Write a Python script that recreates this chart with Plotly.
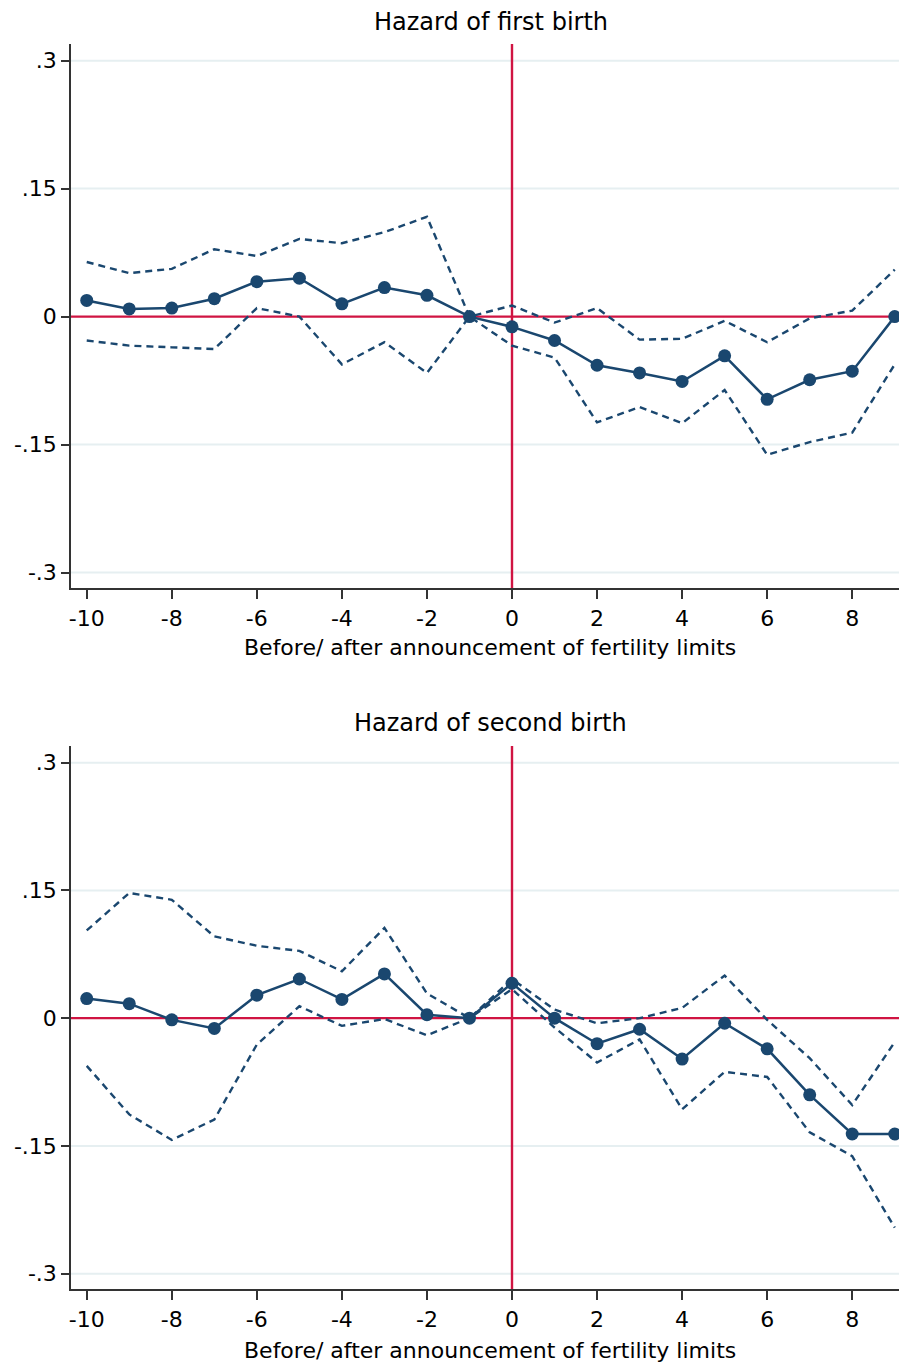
import plotly.graph_objects as go

# Event time relative to the announcement year
years = list(range(-10, 10))

# Hazard of first birth: point estimates and 95% CI bounds
first_est = [0.019, 0.009, 0.010, 0.021, 0.041, 0.045, 0.015, 0.034, 0.025, 0.0,
             -0.012, -0.028, -0.057, -0.066, -0.076, -0.046, -0.097, -0.074, -0.064, 0.0]
first_hi = [0.064, 0.051, 0.056, 0.079, 0.071, 0.091, 0.086, 0.099, 0.117, 0.0,
            0.013, -0.007, 0.010, -0.027, -0.026, -0.005, -0.030, -0.002, 0.007, 0.055]
first_lo = [-0.028, -0.034, -0.036, -0.038, 0.010, 0.0, -0.056, -0.030, -0.066, 0.0,
            -0.034, -0.048, -0.124, -0.106, -0.125, -0.086, -0.162, -0.147, -0.136, -0.056]

# Hazard of second birth: point estimates and 95% CI bounds
second_est = [0.023, 0.017, -0.002, -0.012, 0.027, 0.046, 0.022, 0.052, 0.004, 0.0,
              0.041, 0.0, -0.030, -0.013, -0.048, -0.006, -0.036, -0.090, -0.136, -0.136]
second_hi = [0.103, 0.147, 0.139, 0.096, 0.085, 0.079, 0.055, 0.106, 0.029, 0.0,
             0.046, 0.010, -0.006, 0.0, 0.012, 0.050, -0.002, -0.047, -0.102, -0.028]
second_lo = [-0.056, -0.113, -0.143, -0.119, -0.031, 0.014, -0.009, -0.001, -0.020, 0.0,
             0.034, -0.011, -0.052, -0.025, -0.107, -0.063, -0.069, -0.134, -0.162, -0.246]

panel_titles = ["Hazard of first birth", "Hazard of second birth"]
x_title = "Before/ after announcement of fertility limits"

x_tickvals = [-10, -8, -6, -4, -2, 0, 2, 4, 6, 8]
x_ticktext = ["-10", "-8", "-6", "-4", "-2", "0", "2", "4", "6", "8"]
y_tickvals = [0.3, 0.15, 0, -0.15, -0.3]
y_ticktext = [".3", ".15", "0", "-.15", "-.3"]
grid_vals = [0.3, 0.15, -0.15, -0.3]

NAVY = "#1a476f"
RED = "#d01442"
GRID = "#e6eff1"
FONT = "DejaVu Sans"

fig = go.Figure()

panels = [
    ("x", "y", first_est, first_hi, first_lo),
    ("x2", "y2", second_est, second_hi, second_lo),
]
for xa, ya, est, hi, lo in panels:
    for bound in (hi, lo):
        fig.add_trace(go.Scatter(
            x=years, y=bound, xaxis=xa, yaxis=ya, mode="lines",
            line=dict(color=NAVY, width=2.4, dash="7px,5px"),
            showlegend=False, hoverinfo="skip", cliponaxis=False,
        ))
    fig.add_trace(go.Scatter(
        x=years, y=est, xaxis=xa, yaxis=ya, mode="lines+markers",
        line=dict(color=NAVY, width=2.5),
        marker=dict(color=NAVY, size=13),
        showlegend=False, cliponaxis=False,
    ))

# Light horizontal grid lines, then red reference lines at zero, all under the data
for xa, ya in (("x", "y"), ("x2", "y2")):
    for g in grid_vals:
        fig.add_shape(type="line", xref=f"{xa} domain", yref=ya, x0=0, x1=1, y0=g, y1=g,
                      line=dict(color=GRID, width=2), layer="below")
    fig.add_shape(type="line", xref=f"{xa} domain", yref=ya, x0=0, x1=1, y0=0, y1=0,
                  line=dict(color=RED, width=2.4), layer="below")
    fig.add_shape(type="line", xref=xa, yref=f"{ya} domain", x0=0, x1=0, y0=0, y1=1,
                  line=dict(color=RED, width=2.4), layer="below")

xaxis_common = dict(
    range=[-10.37, 9.10], tickvals=x_tickvals, ticktext=x_ticktext,
    showline=True, linecolor="#333333", linewidth=1.5, mirror=False,
    ticks="outside", ticklen=9, tickwidth=1.5, tickcolor="#333333",
    showgrid=False, zeroline=False, ticklabelstandoff=1,
    tickfont=dict(family=FONT, size=22, color="black"),
)
yaxis_common = dict(
    range=[-0.318, 0.3195], tickvals=y_tickvals, ticktext=y_ticktext,
    showline=True, linecolor="#333333", linewidth=1.5, mirror=False,
    ticks="outside", ticklen=8, tickwidth=1.5, tickcolor="#333333",
    showgrid=False, zeroline=False, ticklabelstandoff=0,
    tickfont=dict(family=FONT, size=22, color="black"),
)

fig.update_layout(
    width=899, height=1364,
    margin=dict(l=71, r=0, t=44, b=75),
    paper_bgcolor="white", plot_bgcolor="white",
    font=dict(family=FONT, size=22, color="black"),
    xaxis=dict(domain=[0, 1], anchor="y", **xaxis_common),
    yaxis=dict(domain=[0.5631, 1], anchor="x", **yaxis_common),
    xaxis2=dict(domain=[0, 1], anchor="y2", **xaxis_common),
    yaxis2=dict(domain=[0, 0.4361], anchor="x2", **yaxis_common),
)

# Panel titles and x-axis titles
title_y = [1.0177, 0.4546]
xtitle_y = [0.5149, -0.049]
for i in range(2):
    fig.add_annotation(text=panel_titles[i], xref="paper", yref="paper",
                       x=0.507, y=title_y[i], xanchor="center", yanchor="middle",
                       showarrow=False, font=dict(family=FONT, size=24, color="black"))
    fig.add_annotation(text=x_title, xref="paper", yref="paper",
                       x=0.5066, y=xtitle_y[i], xanchor="center", yanchor="middle",
                       showarrow=False, font=dict(family=FONT, size=22, color="black"))

fig.write_html("out.html")
